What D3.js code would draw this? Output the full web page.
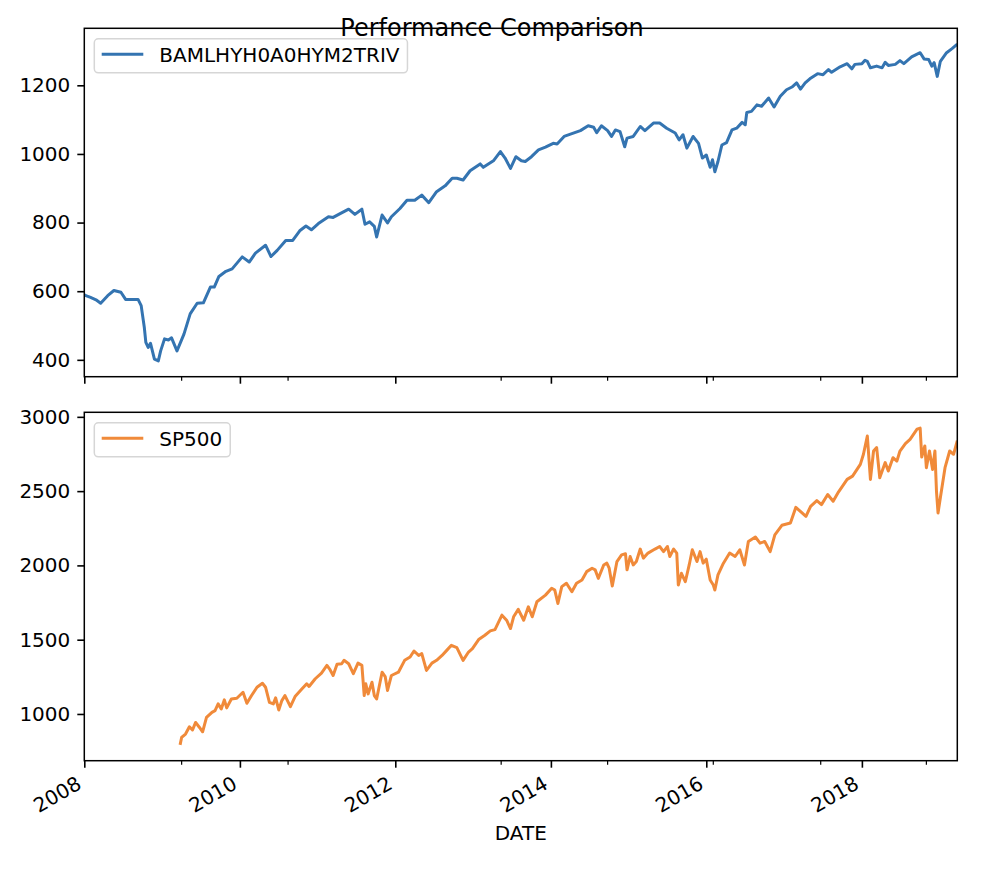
<!doctype html>
<html>
<head>
    <meta charset="UTF-8">
    <title>Performance Comparison</title>
    <script src="https://d3js.org/d3.v7.min.js"></script>
    <style>
        body { margin: 0; background: #fff; }
        text { font-family: "DejaVu Sans", sans-serif; fill: #000; }
    </style>
</head>
<body>
    <script>
        // dates are decimal years
        var hyYear = [2008.00, 2008.02, 2008.08, 2008.15, 2008.21, 2008.30, 2008.38, 2008.47, 2008.53, 2008.62,
            2008.69, 2008.73, 2008.77, 2008.79, 2008.82, 2008.85, 2008.90, 2008.95, 2008.98, 2009.03,
            2009.08, 2009.12, 2009.19, 2009.28, 2009.36, 2009.45, 2009.53, 2009.62, 2009.67, 2009.73,
            2009.82, 2009.90, 2010.03, 2010.12, 2010.20, 2010.33, 2010.40, 2010.48, 2010.59, 2010.68,
            2010.77, 2010.85, 2010.92, 2011.01, 2011.14, 2011.20, 2011.29, 2011.40, 2011.48, 2011.57,
            2011.61, 2011.67, 2011.73, 2011.76, 2011.83, 2011.90, 2011.95, 2012.06, 2012.15, 2012.25,
            2012.34, 2012.43, 2012.53, 2012.64, 2012.73, 2012.79, 2012.87, 2012.96, 2013.09, 2013.13,
            2013.26, 2013.35, 2013.41, 2013.48, 2013.55, 2013.62, 2013.67, 2013.75, 2013.84, 2013.93,
            2014.03, 2014.08, 2014.17, 2014.27, 2014.38, 2014.48, 2014.55, 2014.59, 2014.65, 2014.73,
            2014.78, 2014.83, 2014.89, 2014.95, 2014.98, 2015.06, 2015.15, 2015.21, 2015.32, 2015.40,
            2015.49, 2015.60, 2015.65, 2015.70, 2015.75, 2015.83, 2015.90, 2015.95, 2016.00, 2016.05,
            2016.08, 2016.11, 2016.15, 2016.20, 2016.26, 2016.33, 2016.39, 2016.46, 2016.50, 2016.52,
            2016.58, 2016.65, 2016.71, 2016.80, 2016.87, 2016.95, 2017.03, 2017.10, 2017.16, 2017.21,
            2017.27, 2017.33, 2017.43, 2017.50, 2017.57, 2017.61, 2017.72, 2017.81, 2017.87, 2017.91,
            2018.00, 2018.04, 2018.07, 2018.11, 2018.19, 2018.26, 2018.30, 2018.34, 2018.43, 2018.49,
            2018.54, 2018.64, 2018.75, 2018.80, 2018.86, 2018.90, 2018.93, 2018.97, 2019.01, 2019.09,
            2019.16, 2019.228];
        var hyValue = [590, 587, 582, 575, 565, 587, 602, 597, 576, 576,
            576, 558, 495, 451, 436, 448, 402, 397, 426, 461,
            458, 464, 426, 475, 534, 565, 566, 612, 612, 643,
            658, 665, 700, 685, 711, 734, 701, 719, 748, 748,
            776, 790, 779, 797, 817, 815, 826, 839, 824, 839,
            795, 802, 789, 758, 822, 799, 817, 841, 865, 865,
            880, 858, 890, 907, 929, 929, 924, 951, 971, 961,
            980, 1007, 988, 958, 992, 980, 978, 992, 1012, 1020,
            1031, 1029, 1051, 1059, 1068, 1082, 1078, 1062, 1082, 1068,
            1051, 1070, 1065, 1021, 1046, 1051, 1080, 1068, 1090, 1090,
            1075, 1061, 1041, 1056, 1017, 1051, 1031, 988, 997, 961,
            983, 948, 978, 1026, 1033, 1070, 1075, 1092, 1085, 1121,
            1124, 1143, 1139, 1163, 1137, 1168, 1187, 1195, 1207, 1189,
            1207, 1219, 1234, 1231, 1246, 1238, 1254, 1263, 1248, 1261,
            1263, 1273, 1270, 1251, 1256, 1251, 1267, 1258, 1261, 1272,
            1263, 1283, 1295, 1277, 1275, 1256, 1266, 1226, 1270, 1295,
            1307, 1320];

        var spYear = [2009.23, 2009.25, 2009.30, 2009.35, 2009.39, 2009.43, 2009.48, 2009.52, 2009.57, 2009.64,
            2009.68, 2009.72, 2009.76, 2009.80, 2009.83, 2009.89, 2009.96, 2010.04, 2010.09, 2010.15,
            2010.22, 2010.29, 2010.33, 2010.38, 2010.43, 2010.46, 2010.50, 2010.54, 2010.58, 2010.65,
            2010.71, 2010.80, 2010.86, 2010.89, 2010.97, 2011.05, 2011.12, 2011.16, 2011.20, 2011.25,
            2011.31, 2011.34, 2011.40, 2011.46, 2011.52, 2011.57, 2011.60, 2011.62, 2011.65, 2011.70,
            2011.73, 2011.76, 2011.83, 2011.87, 2011.90, 2011.95, 2012.04, 2012.12, 2012.19, 2012.24,
            2012.30, 2012.34, 2012.40, 2012.47, 2012.53, 2012.60, 2012.66, 2012.72, 2012.79, 2012.87,
            2012.94, 2012.99, 2013.07, 2013.15, 2013.22, 2013.28, 2013.37, 2013.43, 2013.48, 2013.52,
            2013.58, 2013.65, 2013.71, 2013.76, 2013.82, 2013.93, 2014.01, 2014.05, 2014.09, 2014.14,
            2014.20, 2014.27, 2014.33, 2014.40, 2014.46, 2014.53, 2014.57, 2014.61, 2014.68, 2014.72,
            2014.75, 2014.79, 2014.85, 2014.91, 2014.96, 2014.98, 2015.02, 2015.06, 2015.10, 2015.15,
            2015.19, 2015.25, 2015.34, 2015.40, 2015.45, 2015.50, 2015.53, 2015.58, 2015.62, 2015.64,
            2015.68, 2015.73, 2015.78, 2015.82, 2015.88, 2015.92, 2015.96, 2016.00, 2016.05, 2016.09,
            2016.11, 2016.15, 2016.22, 2016.30, 2016.37, 2016.43, 2016.49, 2016.54, 2016.63, 2016.69,
            2016.75, 2016.82, 2016.88, 2016.97, 2017.08, 2017.15, 2017.23, 2017.28, 2017.34, 2017.42,
            2017.48, 2017.56, 2017.63, 2017.70, 2017.81, 2017.88, 2017.98, 2018.02, 2018.07, 2018.11,
            2018.15, 2018.19, 2018.23, 2018.30, 2018.34, 2018.40, 2018.45, 2018.49, 2018.56, 2018.62,
            2018.71, 2018.75, 2018.77, 2018.81, 2018.83, 2018.87, 2018.91, 2018.94, 2018.96, 2018.98,
            2019.01, 2019.07, 2019.13, 2019.18, 2019.228];
        var spValue = [792, 842, 865, 914, 892, 943, 909, 880, 977, 1011,
            1022, 1068, 1034, 1095, 1041, 1101, 1106, 1146, 1072, 1124,
            1180, 1207, 1180, 1078, 1068, 1108, 1027, 1090, 1124, 1049,
            1117, 1169, 1203, 1185, 1237, 1275, 1327, 1298, 1259, 1334,
            1338, 1361, 1338, 1271, 1342, 1327, 1124, 1203, 1135, 1214,
            1124, 1101, 1281, 1252, 1158, 1259, 1281, 1361, 1383, 1424,
            1394, 1406, 1293, 1342, 1361, 1394, 1428, 1462, 1447, 1361,
            1417, 1440, 1501, 1530, 1559, 1568, 1665, 1631, 1575, 1654,
            1704, 1631, 1721, 1654, 1755, 1800, 1846, 1834, 1744, 1857,
            1880, 1823, 1880, 1902, 1958, 1981, 1970, 1913, 2003, 2015,
            1981, 1861, 2026, 2071, 2078, 1970, 2060, 2003, 2026, 2110,
            2049, 2083, 2110, 2127, 2093, 2127, 2060, 2110, 2083, 1868,
            1947, 1890, 2003, 2105, 2026, 2093, 2015, 2042, 1902, 1868,
            1834, 1936, 2015, 2083, 2060, 2105, 2003, 2161, 2191, 2150,
            2161, 2093, 2206, 2270, 2285, 2391, 2353, 2330, 2398, 2436,
            2409, 2477, 2432, 2495, 2579, 2601, 2680, 2748, 2871, 2579,
            2770, 2793, 2590, 2692, 2635, 2725, 2702, 2770, 2820, 2849,
            2917, 2924, 2729, 2804, 2658, 2770, 2646, 2770, 2499, 2353,
            2455, 2658, 2770, 2748, 2840];

        var majorYears = [2008, 2010, 2012, 2014, 2016, 2018];
        var minorYears = [2009.25, 2010.62, 2013.36, 2014.73, 2016.09, 2017.47, 2018.83];
        var hyTicks = [400, 600, 800, 1000, 1200];
        var spTicks = [1000, 1500, 2000, 2500, 3000];

        var w = 984, h = 870;
        var left = 84.3, right = 957.3;
        var panels = [
            {name: "BAMLHYH0A0HYM2TRIV", years: hyYear, values: hyValue, ticks: hyTicks, color: "#3474b1", top: 28.3, bottom: 376.7, labels: false},
            {name: "SP500", years: spYear, values: spValue, ticks: spTicks, color: "#f08a3a", top: 412.3, bottom: 760.7, labels: true}
        ];

        function toDate(y) {
            var yr = Math.floor(y);
            var a = new Date(yr, 0, 1), b = new Date(yr + 1, 0, 1);
            return new Date(+a + (y - yr) * (b - a));
        }

        var svg = d3.select("body").append("svg")
            .attr("width", w)
            .attr("height", h);

        var x = d3.scaleTime()
            .domain([toDate(hyYear[0]), toDate(hyYear[hyYear.length - 1])])
            .range([left, right]);

        panels.forEach(function(p) {
            var ext = d3.extent(p.values);
            var pad = (ext[1] - ext[0]) * 0.05;
            var y = d3.scaleLinear()
                .domain([ext[0] - pad, ext[1] + pad])
                .range([p.bottom, p.top]);

            var pts = p.years.map(function(d, i) { return [toDate(d), p.values[i]]; });

            var line = d3.line()
                .x(function(d) { return x(d[0]); })
                .y(function(d) { return y(d[1]); });

            svg.append("defs").append("clipPath").attr("id", "clip" + p.name)
                .append("rect")
                .attr("x", left).attr("y", p.top)
                .attr("width", right - left).attr("height", p.bottom - p.top);

            svg.append("path")
                .datum(pts)
                .attr("clip-path", "url(#clip" + p.name + ")")
                .attr("d", line)
                .attr("fill", "none")
                .attr("stroke", p.color)
                .attr("stroke-width", 3)
                .attr("stroke-linejoin", "round");

            // y axis
            var ya = svg.append("g")
                .attr("transform", "translate(" + left + ",0)")
                .call(d3.axisLeft(y).tickValues(p.ticks).tickSize(7).tickPadding(7)
                    .tickFormat(d3.format("d")));
            ya.select(".domain").remove();
            ya.selectAll("line").attr("stroke", "#000").attr("stroke-width", 1.6);
            ya.selectAll("text").style("font-size", "20px").attr("fill", "#000");

            // x axis, major + minor
            var xa = svg.append("g")
                .attr("transform", "translate(0," + p.bottom + ")")
                .call(d3.axisBottom(x).tickValues(majorYears.map(toDate)).tickSize(7)
                    .tickFormat(d3.timeFormat("%Y")));
            xa.select(".domain").remove();
            xa.selectAll("line").attr("stroke", "#000").attr("stroke-width", 1.6);
            if (p.labels) {
                xa.selectAll("text")
                    .style("font-size", "20px")
                    .attr("fill", "#000")
                    .attr("text-anchor", "end")
                    .attr("y", 0).attr("dy", 0)
                    .attr("transform", "translate(-2,27) rotate(-30)");
            } else {
                xa.selectAll("text").remove();
            }

            svg.append("g")
                .attr("transform", "translate(0," + p.bottom + ")")
                .selectAll("line")
                .data(minorYears)
                .enter().append("line")
                .attr("x1", function(d) { return x(toDate(d)); })
                .attr("x2", function(d) { return x(toDate(d)); })
                .attr("y1", 0).attr("y2", 4)
                .attr("stroke", "#000").attr("stroke-width", 1.2);

            // frame
            svg.append("rect")
                .attr("x", left).attr("y", p.top)
                .attr("width", right - left).attr("height", p.bottom - p.top)
                .attr("fill", "none")
                .attr("stroke", "#000")
                .attr("stroke-width", 1.5);

            // legend
            var lg = svg.append("g").attr("transform", "translate(" + (left + 10) + "," + (p.top + 10.5) + ")");
            var lt = lg.append("text")
                .attr("x", 65).attr("y", 23.4)
                .style("font-size", "20px")
                .text(p.name);
            var tw = lt.node().getComputedTextLength();
            lg.insert("rect", "text")
                .attr("x", 0).attr("y", 0)
                .attr("width", 65 + tw + 8).attr("height", 34)
                .attr("rx", 4)
                .attr("fill", "#fff").attr("fill-opacity", 0.8)
                .attr("stroke", "#d6d6d6").attr("stroke-width", 1.5);
            lg.append("line")
                .attr("x1", 7.4).attr("x2", 49)
                .attr("y1", 15.5).attr("y2", 15.5)
                .attr("stroke", p.color).attr("stroke-width", 3);
        });

        svg.append("text")
            .attr("x", w / 2).attr("y", 36)
            .attr("text-anchor", "middle")
            .style("font-size", "24px")
            .text("Performance Comparison");

        svg.append("text")
            .attr("x", (left + right) / 2).attr("y", 840)
            .attr("text-anchor", "middle")
            .style("font-size", "20px")
            .text("DATE");
    </script>
</body>
</html>
